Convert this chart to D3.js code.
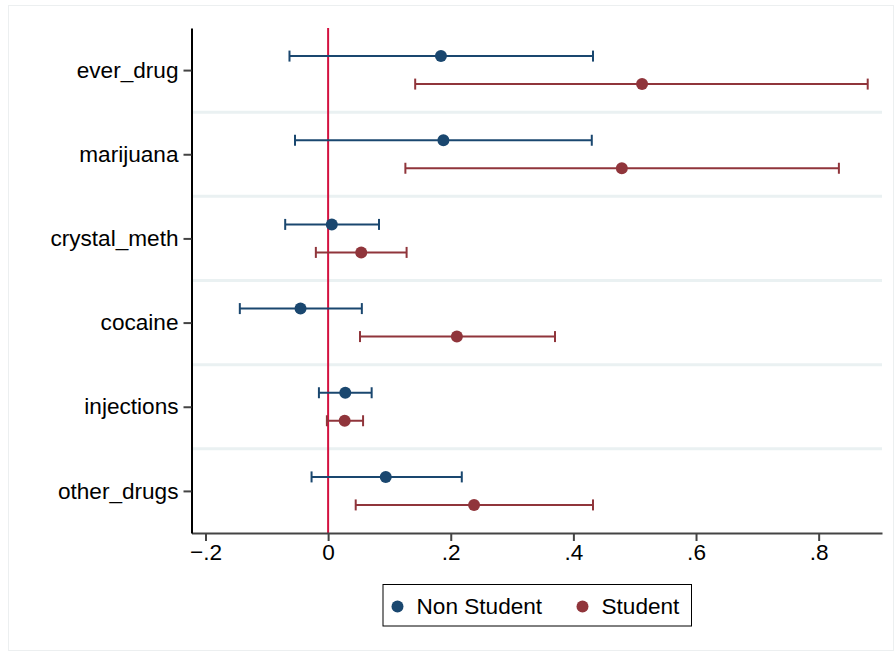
<!DOCTYPE html>
<html>
<head>
<meta charset="utf-8">
<style>
body { margin: 0; background: #fff; }
svg { font-family: "Liberation Sans", Arial, sans-serif; }
</style>
<script src="https://d3js.org/d3.v7.min.js"></script>
</head>
<body>
<svg id="chart" width="896" height="654"></svg>
<script>

// outcomes, top to bottom
var outcomes = ["ever_drug", "marijuana", "crystal_meth", "cocaine", "injections", "other_drugs"];

// Non Student: estimate and confidence interval
var nonStudentEst = [0.184, 0.188, 0.006, -0.045, 0.028, 0.094];
var nonStudentLo  = [-0.063, -0.054, -0.070, -0.144, -0.015, -0.027];
var nonStudentHi  = [0.432, 0.430, 0.083, 0.055, 0.071, 0.218];

// Student
var studentEst = [0.512, 0.479, 0.054, 0.210, 0.027, 0.238];
var studentLo  = [0.142, 0.126, -0.020, 0.052, -0.002, 0.045];
var studentHi  = [0.880, 0.833, 0.128, 0.370, 0.057, 0.432];

var xTicks = [-0.2, 0, 0.2, 0.4, 0.6, 0.8];
var seriesNames = ["Non Student", "Student"];
var seriesColors = ["#1a476f", "#90353b"];
var refColor = "#d31240";

var svg = d3.select("#chart");

// plot region (note: "top" is reserved on window, so use plotTop)
var plotLeft = 191.5, plotRight = 882, plotTop = 28, plotBottom = 533;
var fontSize = 22.6;

var x = d3.scaleLinear().domain([-0.2228, 0.9033]).range([plotLeft, plotRight]);
var y = d3.scaleLinear().domain([-0.5, 5.5]).range([plotTop, plotBottom]);
var offset = 14;

// outer frame
svg.append("rect")
    .attr("x", 8.5).attr("y", 5.5)
    .attr("width", 885).attr("height", 645)
    .attr("fill", "none")
    .attr("stroke", "#eceff0")
    .attr("stroke-width", 1);

// separators between outcomes
svg.append("g").selectAll("line")
    .data(d3.range(1, outcomes.length))
    .enter().append("line")
    .attr("x1", plotLeft).attr("x2", plotRight)
    .attr("y1", function(d) { return y(d - 0.5); })
    .attr("y2", function(d) { return y(d - 0.5); })
    .attr("stroke", "#eaf1f2")
    .attr("stroke-width", 3);

// zero line
svg.append("line")
    .attr("x1", x(0)).attr("x2", x(0))
    .attr("y1", plotTop).attr("y2", plotBottom)
    .attr("stroke", refColor)
    .attr("stroke-width", 2);

// x axis
var xAxis = svg.append("g")
    .attr("transform", "translate(0," + plotBottom + ")")
    .call(d3.axisBottom(x).tickValues(xTicks).tickSize(8).tickSizeOuter(0).tickPadding(3)
        .tickFormat(function(d) {
            if (d === 0) return "0";
            var s = d3.format(".1f")(Math.abs(d)).replace(/^0/, "");
            return d < 0 ? "\u2212" + s : s;
        }));
xAxis.select(".domain").attr("stroke", "#444").attr("stroke-width", 2);
xAxis.selectAll(".tick line").attr("stroke", "#444").attr("stroke-width", 2);
xAxis.selectAll(".tick text").attr("font-size", fontSize).attr("fill", "#000")
    .attr("font-family", "Liberation Sans, Arial, sans-serif");

// y axis
var yAxis = svg.append("g")
    .attr("transform", "translate(" + plotLeft + ",0)")
    .call(d3.axisLeft(y).tickValues(d3.range(outcomes.length)).tickSize(8).tickSizeOuter(0).tickPadding(5)
        .tickFormat(function(i) { return outcomes[i]; }));
yAxis.select(".domain").attr("stroke", "#000").attr("stroke-width", 2);
yAxis.selectAll(".tick line").attr("stroke", "#444").attr("stroke-width", 2);
yAxis.selectAll(".tick text").attr("font-size", fontSize).attr("fill", "#000")
    .attr("font-family", "Liberation Sans, Arial, sans-serif");

// series
var series = [
    { est: nonStudentEst, lo: nonStudentLo, hi: nonStudentHi, dy: -offset, color: seriesColors[0] },
    { est: studentEst, lo: studentLo, hi: studentHi, dy: offset, color: seriesColors[1] }
];

series.forEach(function(s) {
    var g = svg.append("g");
    var rows = outcomes.map(function(name, i) {
        return { i: i, est: s.est[i], lo: s.lo[i], hi: s.hi[i] };
    });
    var row = g.selectAll("g").data(rows).enter().append("g");
    row.append("line")
        .attr("x1", function(d) { return x(d.lo); })
        .attr("x2", function(d) { return x(d.hi); })
        .attr("y1", function(d) { return y(d.i) + s.dy; })
        .attr("y2", function(d) { return y(d.i) + s.dy; })
        .attr("stroke", s.color).attr("stroke-width", 2);
    ["lo", "hi"].forEach(function(k) {
        row.append("line")
            .attr("x1", function(d) { return x(d[k]); })
            .attr("x2", function(d) { return x(d[k]); })
            .attr("y1", function(d) { return y(d.i) + s.dy - 5.5; })
            .attr("y2", function(d) { return y(d.i) + s.dy + 5.5; })
            .attr("stroke", s.color).attr("stroke-width", 2);
    });
    row.append("circle")
        .attr("cx", function(d) { return x(d.est); })
        .attr("cy", function(d) { return y(d.i) + s.dy; })
        .attr("r", 6)
        .attr("fill", s.color);
});

// legend
var legend = svg.append("g");
legend.append("rect")
    .attr("x", 383).attr("y", 584.5)
    .attr("width", 308.5).attr("height", 41.5)
    .attr("fill", "#fff").attr("stroke", "#000").attr("stroke-width", 1);
var legendX = [397.5, 582.5];
seriesNames.forEach(function(name, i) {
    legend.append("circle")
        .attr("cx", legendX[i]).attr("cy", 606.5).attr("r", 6)
        .attr("fill", seriesColors[i]);
    legend.append("text")
        .attr("x", legendX[i] + 19).attr("y", 606.5)
        .attr("dy", "0.35em")
        .attr("font-size", fontSize)
        .text(name);
});

</script>
</body>
</html>
